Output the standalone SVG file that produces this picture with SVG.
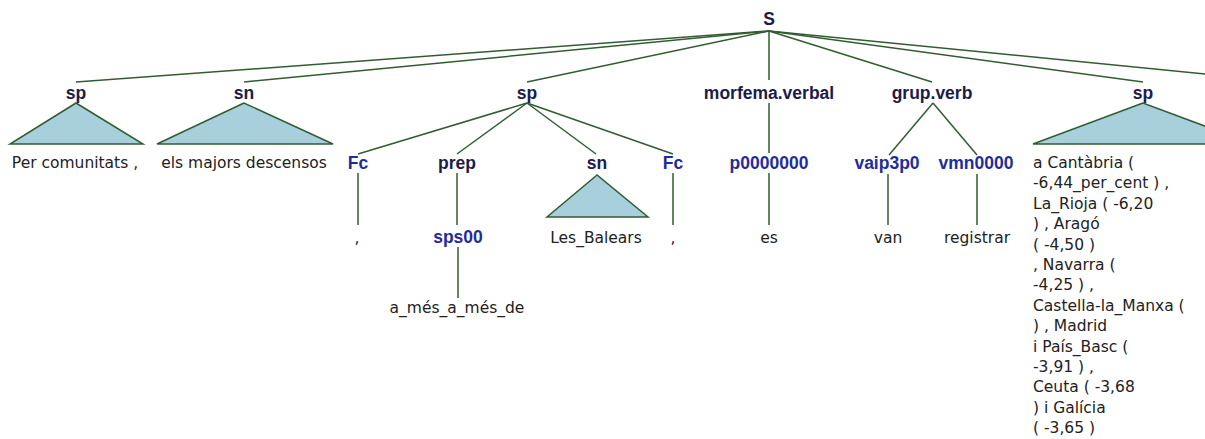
<svg xmlns="http://www.w3.org/2000/svg" width="1205" height="439" viewBox="0 0 1205 439">
<style>
.cat{font-family:"Liberation Sans",Arial,sans-serif;font-weight:bold;font-size:17.5px;fill:#1c1c4a;text-anchor:middle}
.pos{font-family:"Liberation Sans",Arial,sans-serif;font-weight:bold;font-size:17.5px;fill:#1f2d9c;text-anchor:middle}
.leaf{font-family:"DejaVu Sans",Verdana,sans-serif;font-size:15.5px;fill:#222;text-anchor:middle}
.col{font-family:"DejaVu Sans",Verdana,sans-serif;font-size:15.5px;fill:#222}
.e{stroke:#325c32;stroke-width:1.5;fill:none}
.tri{fill:#a8cfdc;stroke:#325c32;stroke-width:1.5}
</style>
<rect width="1205" height="439" fill="#fff"/>
<g id="connectors" class="e">
<line x1="769" y1="31" x2="76" y2="82"/>
<line x1="769" y1="31" x2="244" y2="82"/>
<line x1="769" y1="31" x2="527" y2="82"/>
<line x1="769" y1="31" x2="769" y2="80"/>
<line x1="769" y1="31" x2="932" y2="82"/>
<line x1="769" y1="31" x2="1143" y2="82"/>
<line x1="769" y1="31" x2="1286" y2="82"/>
<line x1="527" y1="103" x2="358" y2="154"/>
<line x1="527" y1="103" x2="457" y2="154"/>
<line x1="527" y1="103" x2="596" y2="154"/>
<line x1="527" y1="103" x2="673" y2="154"/>
<line x1="358" y1="173" x2="358" y2="225"/>
<line x1="457" y1="173" x2="457" y2="225"/>
<line x1="458" y1="247" x2="458" y2="298"/>
<line x1="673" y1="173" x2="673" y2="225"/>
<line x1="769" y1="103" x2="769" y2="153"/>
<line x1="769" y1="173" x2="769" y2="225"/>
<line x1="933" y1="103" x2="889" y2="155"/>
<line x1="933" y1="103" x2="977" y2="155"/>
<line x1="888" y1="174" x2="888" y2="225"/>
<line x1="977" y1="174" x2="977" y2="225"/>
</g>
<g id="n-S"><text class="cat" x="769" y="25">S</text></g>
<g id="n-sp1">
<text class="cat" x="76" y="99">sp</text>
<polygon class="tri" points="76,103 10,144 143,144"/>
<text class="leaf" x="75" y="168">Per comunitats ,</text>
</g>
<g id="n-sn1">
<text class="cat" x="244" y="99">sn</text>
<polygon class="tri" points="244,103 157,144 333,144"/>
<text class="leaf" x="244" y="168">els majors descensos</text>
</g>
<g id="n-sp2"><text class="cat" x="527" y="99">sp</text></g>
<g id="n-Fc1">
<text class="pos" x="358" y="169">Fc</text>
<text class="leaf" x="357" y="243">,</text>
</g>
<g id="n-prep"><text class="cat" x="457" y="169">prep</text></g>
<g id="n-sps00">
<text class="pos" x="458" y="243">sps00</text>
<text class="leaf" x="457" y="313">a_més_a_més_de</text>
</g>
<g id="n-sn2">
<text class="cat" x="597" y="169">sn</text>
<polygon class="tri" points="597,175 547,217 648,217"/>
<text class="leaf" x="596" y="243">Les_Balears</text>
</g>
<g id="n-Fc2">
<text class="pos" x="673" y="169">Fc</text>
<text class="leaf" x="673" y="243">,</text>
</g>
<g id="n-morfema">
<text class="cat" x="769" y="99">morfema.verbal</text>
</g>
<g id="n-p0000000">
<text class="pos" x="769" y="169">p0000000</text>
<text class="leaf" x="769" y="243">es</text>
</g>
<g id="n-grupverb"><text class="cat" x="932" y="99">grup.verb</text></g>
<g id="n-vaip3p0">
<text class="pos" x="887" y="169">vaip3p0</text>
<text class="leaf" x="888" y="243">van</text>
</g>
<g id="n-vmn0000">
<text class="pos" x="976" y="169">vmn0000</text>
<text class="leaf" x="977" y="243">registrar</text>
</g>
<g id="n-sp3">
<text class="cat" x="1143" y="99">sp</text>
<polygon class="tri" points="1143,103 1033,144 1253,144"/>
<text class="col" x="1033" y="168">a Cantàbria (</text>
<text class="col" x="1033" y="188.4">-6,44_per_cent ) ,</text>
<text class="col" x="1033" y="208.8">La_Rioja ( -6,20</text>
<text class="col" x="1033" y="229.2">) , Aragó</text>
<text class="col" x="1033" y="249.6">( -4,50 )</text>
<text class="col" x="1033" y="270">, Navarra (</text>
<text class="col" x="1033" y="290.4">-4,25 ) ,</text>
<text class="col" x="1033" y="310.8">Castella-la_Manxa (</text>
<text class="col" x="1033" y="331.2">) , Madrid</text>
<text class="col" x="1033" y="351.6">i País_Basc (</text>
<text class="col" x="1033" y="372">-3,91 ) ,</text>
<text class="col" x="1033" y="392.4">Ceuta ( -3,68</text>
<text class="col" x="1033" y="412.8">) i Galícia</text>
<text class="col" x="1033" y="433.2">( -3,65 )</text>
</g>
</svg>
